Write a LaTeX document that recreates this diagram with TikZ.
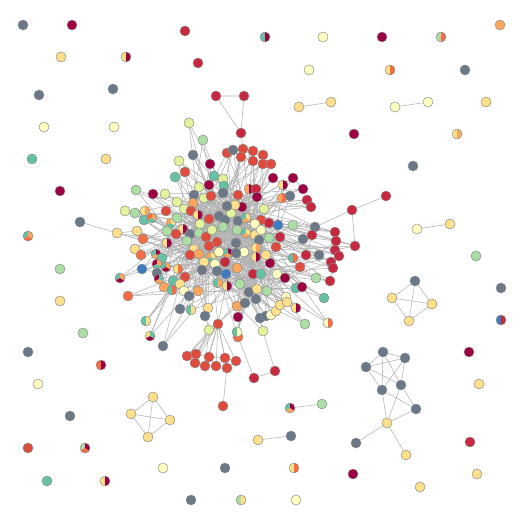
\documentclass[tikz,border=0pt]{standalone}
\usetikzlibrary{backgrounds}
\definecolor{cGY}{HTML}{6A7888}
\definecolor{cDR}{HTML}{9E0142}
\definecolor{cCR}{HTML}{C8283F}
\definecolor{cRD}{HTML}{E04B3E}
\definecolor{cOR}{HTML}{F46D43}
\definecolor{cOG}{HTML}{FCA55D}
\definecolor{cLY}{HTML}{FEE08B}
\definecolor{cPY}{HTML}{FFFFBF}
\definecolor{cLG}{HTML}{E2F39A}
\definecolor{cGN}{HTML}{ABDDA4}
\definecolor{cTL}{HTML}{66C2A5}
\definecolor{cBL}{HTML}{3F7BBF}
\definecolor{ndb}{HTML}{8C8C8C}
\definecolor{edc}{HTML}{B2B2B2}
\pgfdeclarelayer{edgelayer}
\pgfsetlayers{edgelayer,main}
\tikzset{
 nd/.style={circle, draw=ndb, line width=0.5pt, minimum size=10pt, inner sep=0pt},
 ed/.style={draw=edc, line width=0.55pt},
 fGY/.style={fill=cGY}, fDR/.style={fill=cDR}, fCR/.style={fill=cCR},
 fRD/.style={fill=cRD}, fOR/.style={fill=cOR}, fOG/.style={fill=cOG},
 fLY/.style={fill=cLY}, fPY/.style={fill=cPY}, fLG/.style={fill=cLG},
 fGN/.style={fill=cGN}, fTL/.style={fill=cTL}, fBL/.style={fill=cBL},
 hf/.style 2 args={path picture={
   \fill[#1] (path picture bounding box.south west) rectangle (path picture bounding box.north);
   \fill[#2] (path picture bounding box.north) rectangle (path picture bounding box.south east);}},
 pt/.style n args={3}{path picture={
   \fill[#1] (path picture bounding box.center) -- ++(90:8pt) arc (90:210:8pt) -- cycle;
   \fill[#2] (path picture bounding box.center) -- ++(210:8pt) arc (210:330:8pt) -- cycle;
   \fill[#3] (path picture bounding box.center) -- ++(330:8pt) arc (330:450:8pt) -- cycle;}},
}
\newcommand\mknd[4]{\node[nd,#4] (#1) at (#2,#3) {};}
\begin{document}
\begin{tikzpicture}[x=1pt,y=-1pt]
\useasboundingbox (0,0) rectangle (525,525);
% ---------- peripheral nodes ----------
\mknd{p1}{23}{25}{fGY}
\mknd{p2}{72}{25}{fDR}
\mknd{p3}{185}{31}{fCR}
\mknd{p4}{61}{57}{fLY}
\mknd{p5}{126}{57}{hf={cLY}{cDR}}
\mknd{p6}{198}{63}{fCR}
\mknd{p7}{39}{95}{fGY}
\mknd{p8}{113}{89}{fGY}
\mknd{p9}{44}{127}{fPY}
\mknd{p10}{114}{127}{fPY}
\mknd{p11}{32}{159}{fTL}
\mknd{p12}{106}{159}{fLY}
\mknd{p13}{60}{191}{fDR}
\mknd{p14}{80}{222}{fGY}
\mknd{p15}{28}{236}{pt={cTL}{cOR}{cOG}}
\mknd{t1}{216}{96}{fCR}
\mknd{t2}{244}{96}{fCR}
\mknd{t3}{241}{133}{fCR}
\mknd{p16}{265}{37}{hf={cTL}{cDR}}
\mknd{p17}{323}{37}{fPY}
\mknd{p18}{382}{37}{fDR}
\mknd{p19}{441}{37}{hf={cGN}{cOR}}
\mknd{p20}{500}{25}{fOG}
\mknd{p21}{309}{70}{fPY}
\mknd{p22}{390}{70}{hf={cLY}{cOR}}
\mknd{p23}{465}{70}{fGY}
\mknd{q1}{299}{107}{fLY}
\mknd{q2}{331}{102}{fLY}
\mknd{q3}{395}{107}{fPY}
\mknd{q4}{428}{102}{fPY}
\mknd{p24}{486}{102}{fLY}
\mknd{p25}{354}{134}{fDR}
\mknd{p26}{457}{134}{hf={cLY}{cOG}}
\mknd{p27}{413}{166}{fGY}
\mknd{e2}{386}{196}{fCR}
\mknd{e1}{352}{210}{fCR}
\mknd{q5}{417}{229}{fPY}
\mknd{q6}{450}{224}{fLY}
\mknd{p28}{476}{256}{fGN}
\mknd{k1}{415}{281}{fGY}
\mknd{k2}{392}{298}{fLY}
\mknd{k3}{432}{304}{fLY}
\mknd{k4}{409}{321}{fLY}
\mknd{p29}{501}{288}{fGY}
\mknd{p30}{501}{320}{hf={cBL}{cCR}}
\mknd{p31}{469}{352}{fDR}
\mknd{p32}{479}{384}{fLY}
\mknd{p33}{470}{442}{fCR}
\mknd{p34}{477}{474}{fLY}
\mknd{p35}{420}{487}{fLY}
\mknd{p36}{353}{474}{fDR}
\mknd{p37}{296}{500}{fPY}
\mknd{p38}{294}{468}{hf={cLY}{cOR}}
\mknd{y2}{291}{436}{fGY}
\mknd{y1}{258}{440}{fLY}
\mknd{s1}{383}{352}{fGY}
\mknd{s2}{405}{358}{fGY}
\mknd{s3}{366}{367}{fGY}
\mknd{s4}{382}{390}{fGY}
\mknd{s5}{401}{385}{fGY}
\mknd{s6}{416}{409}{fGY}
\mknd{s7}{387}{423}{fLY}
\mknd{s8}{356}{443}{fGY}
\mknd{s9}{406}{455}{fLY}
\mknd{w1}{290}{408}{pt={cTL}{cOG}{cDR}}
\mknd{w2}{322}{404}{fGN}
\mknd{p39}{60}{269}{fGN}
\mknd{p40}{60}{301}{fLY}
\mknd{p41}{83}{333}{fGN}
\mknd{p42}{28}{352}{fGY}
\mknd{p43}{101}{365}{hf={cOR}{cDR}}
\mknd{p44}{38}{384}{fPY}
\mknd{p45}{70}{416}{fGY}
\mknd{p46}{28}{448}{fRD}
\mknd{p47}{85}{448}{pt={cGN}{cOR}{cDR}}
\mknd{p48}{47}{481}{fTL}
\mknd{p49}{105}{481}{hf={cLY}{cDR}}
\mknd{p50}{163}{468}{fPY}
\mknd{p51}{225}{468}{fGY}
\mknd{p52}{191}{500}{fGY}
\mknd{p53}{241}{500}{hf={cGN}{cLY}}
\mknd{j1}{153}{397}{fLY}
\mknd{j2}{131}{414}{fLY}
\mknd{j3}{170}{420}{fLY}
\mknd{j4}{148}{437}{fLY}
% ---------- main cluster ----------
\mknd{c1}{203}{140}{fGN}
\mknd{c2}{189}{123}{fLG}
\mknd{c3}{193}{155}{fGY}
\mknd{c4}{179}{161}{fLG}
\mknd{c5}{210}{164}{fDR}
\mknd{c6}{185}{172}{fRD}
\mknd{c7}{175}{177}{fTL}
\mknd{c8}{214}{176}{fTL}
\mknd{c9}{223}{179}{fLG}
\mknd{c10}{227}{153}{fRD}
\mknd{c11}{233}{150}{fGY}
\mknd{c12}{243}{149}{fRD}
\mknd{c13}{253}{151}{fRD}
\mknd{c14}{263}{155}{fRD}
\mknd{c15}{241}{157}{fRD}
\mknd{c16}{253}{161}{fRD}
\mknd{c17}{263}{164}{fRD}
\mknd{c18}{271}{164}{fRD}
\mknd{c19}{273}{178}{fDR}
\mknd{c20}{283}{185}{hf={cLY}{cDR}}
\mknd{c21}{293}{178}{fDR}
\mknd{c22}{303}{189}{fDR}
\mknd{c23}{282}{198}{hf={cOG}{cOR}}
\mknd{c24}{290}{196}{fGY}
\mknd{c25}{307}{200}{fCR}
\mknd{c26}{311}{207}{fCR}
\mknd{c27}{209}{185}{fDR}
\mknd{c28}{224}{186}{fTL}
\mknd{c29}{199}{187}{fLG}
\mknd{c30}{136}{190}{fGN}
\mknd{c31}{153}{194}{fDR}
\mknd{c32}{165}{194}{fLG}
\mknd{c33}{177}{202}{fLG}
\mknd{c34}{194}{195}{fGY}
\mknd{c35}{204}{198}{fLG}
\mknd{c36}{211}{196}{fRD}
\mknd{c37}{223}{193}{fGY}
\mknd{c38}{238}{195}{fRD}
\mknd{c39}{249}{189}{hf={cOG}{cDR}}
\mknd{c40}{256}{189}{fCR}
\mknd{c41}{257}{197}{fDR}
\mknd{c42}{193}{203}{fOG}
\mknd{c43}{184}{209}{fLG}
\mknd{c44}{166}{211}{fRD}
\mknd{c45}{125}{211}{fLG}
\mknd{c46}{135}{213}{fGN}
\mknd{c47}{145}{211}{hf={cLY}{cOG}}
\mknd{c48}{144}{220}{fTL}
\mknd{c49}{152}{218}{pt={cOR}{cTL}{cOG}}
\mknd{c50}{171}{223}{pt={cOG}{cTL}{cLY}}
\mknd{c51}{177}{218}{fGN}
\mknd{c52}{191}{211}{fRD}
\mknd{c53}{198}{215}{hf={cLY}{cDR}}
\mknd{c54}{209}{219}{fRD}
\mknd{c55}{219}{216}{fGY}
\mknd{c56}{225}{220}{fGY}
\mknd{c57}{231}{213}{fLG}
\mknd{c58}{238}{221}{fGY}
\mknd{c59}{246}{218}{pt={cTL}{cOG}{cLY}}
\mknd{c60}{242}{207}{fDR}
\mknd{c61}{235}{205}{fLY}
\mknd{c62}{227}{206}{fGY}
\mknd{c63}{264}{209}{fLG}
\mknd{c64}{261}{220}{fRD}
\mknd{c65}{269}{223}{fCR}
\mknd{c66}{278}{225}{fBL}
\mknd{c67}{293}{225}{fGN}
\mknd{c68}{315}{227}{fGY}
\mknd{c69}{335}{232}{fCR}
\mknd{c70}{200}{224}{fLG}
\mknd{c71}{223}{227}{fGN}
\mknd{c72}{255}{224}{fPY}
\mknd{c73}{117}{233}{fLY}
\mknd{c74}{137}{231}{fLY}
\mknd{c75}{167}{231}{fGN}
\mknd{c76}{183}{229}{hf={cLY}{cDR}}
\mknd{c77}{190}{234}{fGY}
\mknd{c78}{199}{233}{fGN}
\mknd{c79}{206}{237}{fRD}
\mknd{c80}{217}{242}{fRD}
\mknd{c81}{212}{230}{fLG}
\mknd{c82}{237}{230}{fGN}
\mknd{c83}{246}{233}{pt={cTL}{cOG}{cLY}}
\mknd{c84}{255}{235}{fLY}
\mknd{c85}{261}{230}{fPY}
\mknd{c86}{143}{239}{fOR}
\mknd{c87}{167}{243}{hf={cLY}{cDR}}
\mknd{c88}{176}{234}{fRD}
\mknd{c89}{187}{241}{fGN}
\mknd{c90}{280}{237}{fCR}
\mknd{c91}{303}{239}{fGY}
\mknd{c92}{312}{235}{fCR}
\mknd{c93}{336}{241}{fCR}
\mknd{c94}{259}{240}{fGY}
\mknd{c95}{269}{238}{fGN}
\mknd{c96}{355}{246}{fCR}
\mknd{c97}{135}{249}{fLY}
\mknd{c98}{141}{255}{fOR}
\mknd{c99}{156}{254}{pt={cTL}{cOG}{cDR}}
\mknd{c100}{162}{258}{fTL}
\mknd{c101}{194}{249}{fLY}
\mknd{c102}{209}{246}{fRD}
\mknd{c103}{236}{243}{fGY}
\mknd{c104}{244}{252}{fPY}
\mknd{c105}{256}{248}{hf={cLY}{cOG}}
\mknd{c106}{256}{257}{hf={cLY}{cDR}}
\mknd{c107}{190}{255}{fRD}
\mknd{c108}{199}{254}{fOG}
\mknd{c109}{211}{257}{pt={cOG}{cTL}{cLY}}
\mknd{c110}{228}{253}{pt={cTL}{cOG}{cDR}}
\mknd{c111}{236}{253}{fGY}
\mknd{c112}{219}{252}{fPY}
\mknd{c113}{204}{262}{fLY}
\mknd{c114}{276}{247}{fRD}
\mknd{c115}{335}{250}{fCR}
\mknd{c116}{339}{256}{fCR}
\mknd{c117}{306}{255}{fCR}
\mknd{c118}{319}{255}{fGY}
\mknd{c119}{293}{258}{hf={cTL}{cOR}}
\mknd{c120}{331}{262}{fCR}
\mknd{c121}{333}{268}{fCR}
\mknd{c122}{300}{267}{fRD}
\mknd{c123}{270}{263}{fDR}
\mknd{c124}{266}{255}{fLY}
\mknd{c125}{142}{269}{fBL}
\mknd{c126}{157}{264}{pt={cDR}{cTL}{cOG}}
\mknd{c127}{166}{267}{pt={cTL}{cDR}{cOG}}
\mknd{c128}{178}{269}{hf={cLY}{cOR}}
\mknd{c129}{157}{273}{fGY}
\mknd{c130}{225}{262}{fCR}
\mknd{c131}{215}{264}{fPY}
\mknd{c132}{202}{270}{fGY}
\mknd{c133}{217}{271}{fGY}
\mknd{c134}{226}{274}{fBL}
\mknd{c135}{237}{268}{fOG}
\mknd{c136}{253}{274}{fCR}
\mknd{c137}{261}{274}{fTL}
\mknd{c138}{277}{274}{fPY}
\mknd{c139}{285}{278}{fDR}
\mknd{c140}{316}{278}{fGN}
\mknd{c141}{330}{281}{fCR}
\mknd{c142}{120}{278}{pt={cTL}{cDR}{cOG}}
\mknd{c143}{159}{279}{pt={cDR}{cOG}{cTL}}
\mknd{c144}{164}{287}{fOG}
\mknd{c145}{173}{281}{fTL}
\mknd{c146}{172}{290}{hf={cTL}{cOR}}
\mknd{c147}{185}{277}{fRD}
\mknd{c148}{180}{284}{fLY}
\mknd{c149}{184}{291}{fPY}
\mknd{c150}{189}{296}{fGY}
\mknd{c151}{198}{291}{fOG}
\mknd{c152}{218}{283}{hf={cTL}{cOG}}
\mknd{c153}{227}{286}{hf={cLY}{cDR}}
\mknd{c154}{240}{284}{fGN}
\mknd{c155}{249}{292}{fGY}
\mknd{c156}{257}{289}{fLY}
\mknd{c157}{267}{291}{fGN}
\mknd{c158}{296}{288}{fTL}
\mknd{c159}{302}{287}{fDR}
\mknd{c160}{128}{296}{fOR}
\mknd{c161}{256}{299}{fGY}
\mknd{c162}{286}{297}{fPY}
\mknd{c163}{324}{298}{fTL}
\mknd{c164}{180}{309}{fGY}
\mknd{c165}{191}{310}{hf={cTL}{cLY}}
\mknd{c166}{208}{308}{fLY}
\mknd{c167}{205}{316}{fGY}
\mknd{c168}{237}{306}{fOG}
\mknd{c169}{245}{303}{fGY}
\mknd{c170}{238}{317}{fDR}
\mknd{c171}{260}{318}{fGY}
\mknd{c172}{266}{316}{fGY}
\mknd{c173}{271}{315}{fPY}
\mknd{c174}{276}{311}{fLY}
\mknd{c175}{280}{305}{fLY}
\mknd{c176}{287}{302}{fLY}
\mknd{c177}{296}{308}{hf={cLY}{cDR}}
\mknd{c178}{146}{321}{hf={cTL}{cLY}}
\mknd{c179}{150}{336}{pt={cLY}{cDR}{cTL}}
\mknd{c180}{163}{346}{fGY}
\mknd{c181}{305}{324}{fGN}
\mknd{c182}{328}{323}{hf={cPY}{cOR}}
\mknd{c183}{263}{331}{fLG}
\mknd{c184}{209}{330}{fLG}
\mknd{c185}{218}{324}{fRD}
\mknd{c187}{238}{337}{fOR}
\mknd{c186}{237}{332}{hf={cTL}{cPY}}
\mknd{c188}{187}{356}{fRD}
\mknd{c189}{196}{354}{fRD}
\mknd{c190}{209}{357}{fRD}
\mknd{c191}{225}{358}{fRD}
\mknd{c192}{236}{361}{fRD}
\mknd{c193}{195}{363}{fRD}
\mknd{c194}{205}{366}{fRD}
\mknd{c195}{216}{366}{fRD}
\mknd{c196}{227}{368}{fRD}
\mknd{c197}{223}{406}{fRD}
\mknd{c198}{254}{378}{fCR}
\mknd{c199}{275}{371}{fCR}
% ---------- connectors ----------
\begin{pgfonlayer}{edgelayer}
\pgfmathsetseed{4711}
\pgfmathdeclarerandomlist{hubs}{{34}{35}{36}{37}{38}{41}{42}{52}{53}{54}{55}{56}{57}{58}{59}{60}{61}{62}{64}{65}{70}{71}{72}{77}{78}{79}{80}{81}{82}{83}{84}{85}{88}{89}{94}{95}{101}{102}{103}{104}{105}{106}{107}{108}{109}{110}{111}{112}{113}{124}{130}{131}{132}{133}{134}{135}{136}{137}{138}{152}{153}{154}{155}{156}{157}}
\foreach \i in {1,...,187}{
  \foreach \k in {1,2,3}{
    \pgfmathrandomitem{\h}{hubs}
    \ifnum\i=\h\relax\else\draw[ed] (c\i) -- (c\h);\fi
  }
}
% local links in the cluster arms
\draw[ed] (c10) -- (c11) (c11) -- (c12) (c12) -- (c13) (c13) -- (c14) (c15) -- (c16) (c16) -- (c17) (c17) -- (c18);
\draw[ed] (c19) -- (c20) (c20) -- (c21) (c21) -- (c22) (c22) -- (c25) (c25) -- (c26) (c23) -- (c24);
\draw[ed] (c69) -- (c93) (c93) -- (c115) (c115) -- (c116) (c116) -- (c120) (c120) -- (c121) (c92) -- (c117) (c117) -- (c118) (c68) -- (c69) (c118) -- (c115) (c121) -- (c141) (c140) -- (c141) (c69) -- (c115);
\draw[ed] (p14) -- (c73) (c73) -- (c74);
\draw[ed] (t1) -- (t2) (t1) -- (t3) (t2) -- (t3) (t3) -- (c12);
\draw[ed] (e1) -- (e2) (e1) -- (c68) (e1) -- (c96) (c96) -- (c115) (c96) -- (c93);
% bottom red group
\foreach \r in {188,...,196}{\draw[ed] (c185) -- (c\r);}
\draw[ed] (c184) -- (c188) (c184) -- (c189) (c184) -- (c193) (c184) -- (c194);
\draw[ed] (c188) -- (c189) (c189) -- (c190) (c190) -- (c191) (c191) -- (c192) (c193) -- (c194) (c194) -- (c195) (c195) -- (c196) (c188) -- (c193) (c192) -- (c196);
\draw[ed] (c196) -- (c197);
\draw[ed] (c198) -- (c199) (c198) -- (c187) (c199) -- (c183);
% small components
\draw[ed] (y1) -- (y2);
\draw[ed] (w1) -- (w2);
\draw[ed] (q1) -- (q2) (q3) -- (q4) (q5) -- (q6);
\draw[ed] (k1) -- (k2) (k1) -- (k3) (k1) -- (k4) (k2) -- (k3) (k2) -- (k4) (k3) -- (k4);
\draw[ed] (j1) -- (j2) (j1) -- (j3) (j1) -- (j4) (j2) -- (j3) (j2) -- (j4) (j3) -- (j4);
\draw[ed] (s1) -- (s2) (s1) -- (s3) (s2) -- (s3) (s1) -- (s4) (s1) -- (s5) (s2) -- (s4) (s2) -- (s5) (s3) -- (s4) (s3) -- (s5)
          (s4) -- (s6) (s5) -- (s6) (s4) -- (s7) (s5) -- (s7) (s6) -- (s7) (s7) -- (s8) (s7) -- (s9);
\end{pgfonlayer}
\end{tikzpicture}
\end{document}
